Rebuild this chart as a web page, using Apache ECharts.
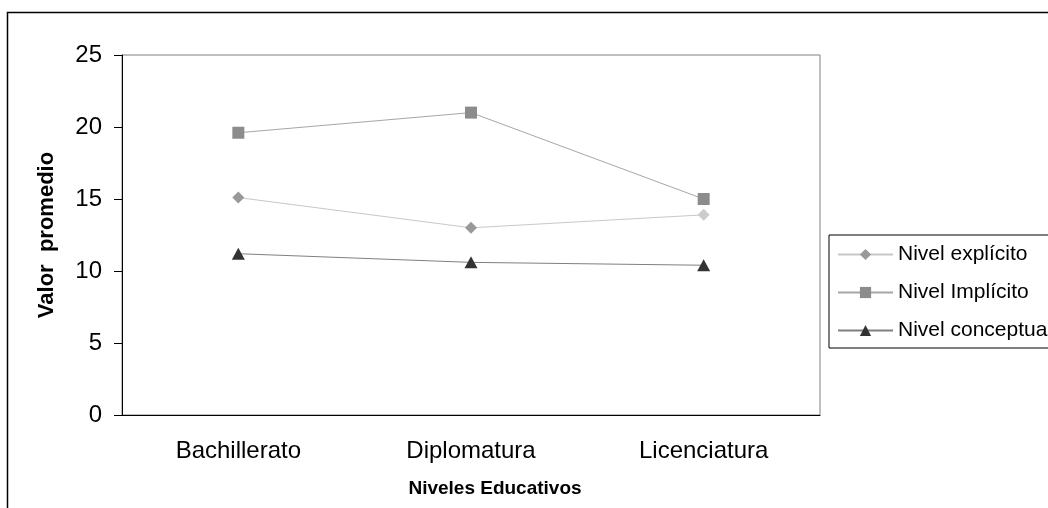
<!DOCTYPE html>
<html>
<head>
<meta charset="utf-8">
<script src="https://cdn.jsdelivr.net/npm/echarts@6/dist/echarts.min.js"></script>
<style>
  html, body { margin: 0; padding: 0; background: #fff; }
  #chart { width: 1048px; height: 508px; }
</style>
</head>
<body>
<div id="chart"></div>
<script>
const categories = ['Bachillerato', 'Diplomatura', 'Licenciatura'];
const explicito = [15.1, 13.0, 13.9];
const implicito = [19.6, 21.0, 15.0];
const conceptual = [11.2, 10.6, 10.4];
const seriesNames = ['Nivel explícito', 'Nivel Implícito', 'Nivel conceptual'];

const font = 'Liberation Sans, Arial, sans-serif';
const chart = echarts.init(document.getElementById('chart'));

const option = {
    backgroundColor: '#fff',
    animation: false,
    textStyle: { fontFamily: font },
    graphic: [{
        type: 'rect',
        shape: { x: 7.5, y: 12.5, width: 1100, height: 600 },
        style: { fill: 'none', stroke: '#000', lineWidth: 1.5 },
        silent: true
    }],
    grid: {
        left: 122,
        top: 55,
        right: 228,
        bottom: 93,
        show: true,
        borderColor: '#808080',
        borderWidth: 1,
        backgroundColor: '#fff'
    },
    legend: {
        orient: 'vertical',
        left: 829,
        top: 235,
        padding: [9, 8, 7, 8],
        itemWidth: 55,
        itemHeight: 14,
        itemGap: 17,
        borderColor: '#000',
        borderWidth: 1,
        backgroundColor: '#fff',
        selectedMode: false,
        textStyle: { fontFamily: font, fontSize: 21, color: '#000' },
        data: seriesNames
    },
    xAxis: {
        type: 'category',
        data: categories,
        boundaryGap: true,
        name: 'Niveles Educativos',
        nameLocation: 'middle',
        nameGap: 64,
        nameTextStyle: { fontFamily: font, fontSize: 19, fontWeight: 'bold', color: '#000', padding: [0, 0, 0, 48] },
        axisLine: { lineStyle: { color: '#000', width: 1 } },
        axisTick: { show: false },
        axisLabel: { fontFamily: font, fontSize: 24, color: '#000', margin: 24 }
    },
    yAxis: {
        type: 'value',
        min: 0,
        max: 25,
        interval: 5,
        name: 'Valor  promedio',
        nameLocation: 'middle',
        nameGap: 64,
        nameTextStyle: { fontFamily: font, fontSize: 22, fontWeight: 'bold', color: '#000' },
        axisLine: { show: true, lineStyle: { color: '#000', width: 1 } },
        axisTick: { show: true, inside: false, length: 8, lineStyle: { color: '#000' } },
        splitLine: { show: false },
        axisLabel: { fontFamily: font, fontSize: 24, color: '#000', margin: 20 }
    },
    series: [
        {
            name: seriesNames[0],
            type: 'line',
            symbol: 'diamond',
            symbolSize: 12,
            lineStyle: { color: '#c8c8c8', width: 1 },
            itemStyle: { color: '#999999' },
            data: explicito.map((v, i) => i === 2 ? { value: v, itemStyle: { color: '#cccccc' } } : v)
        },
        {
            name: seriesNames[1],
            type: 'line',
            symbol: 'rect',
            symbolSize: 12,
            lineStyle: { color: '#a6a6a6', width: 1 },
            itemStyle: { color: '#8c8c8c' },
            data: implicito
        },
        {
            name: seriesNames[2],
            type: 'line',
            symbol: 'triangle',
            symbolSize: [13, 12],
            lineStyle: { color: '#808080', width: 1 },
            itemStyle: { color: '#333333' },
            data: conceptual
        }
    ]
};

chart.setOption(option);
</script>
</body>
</html>
